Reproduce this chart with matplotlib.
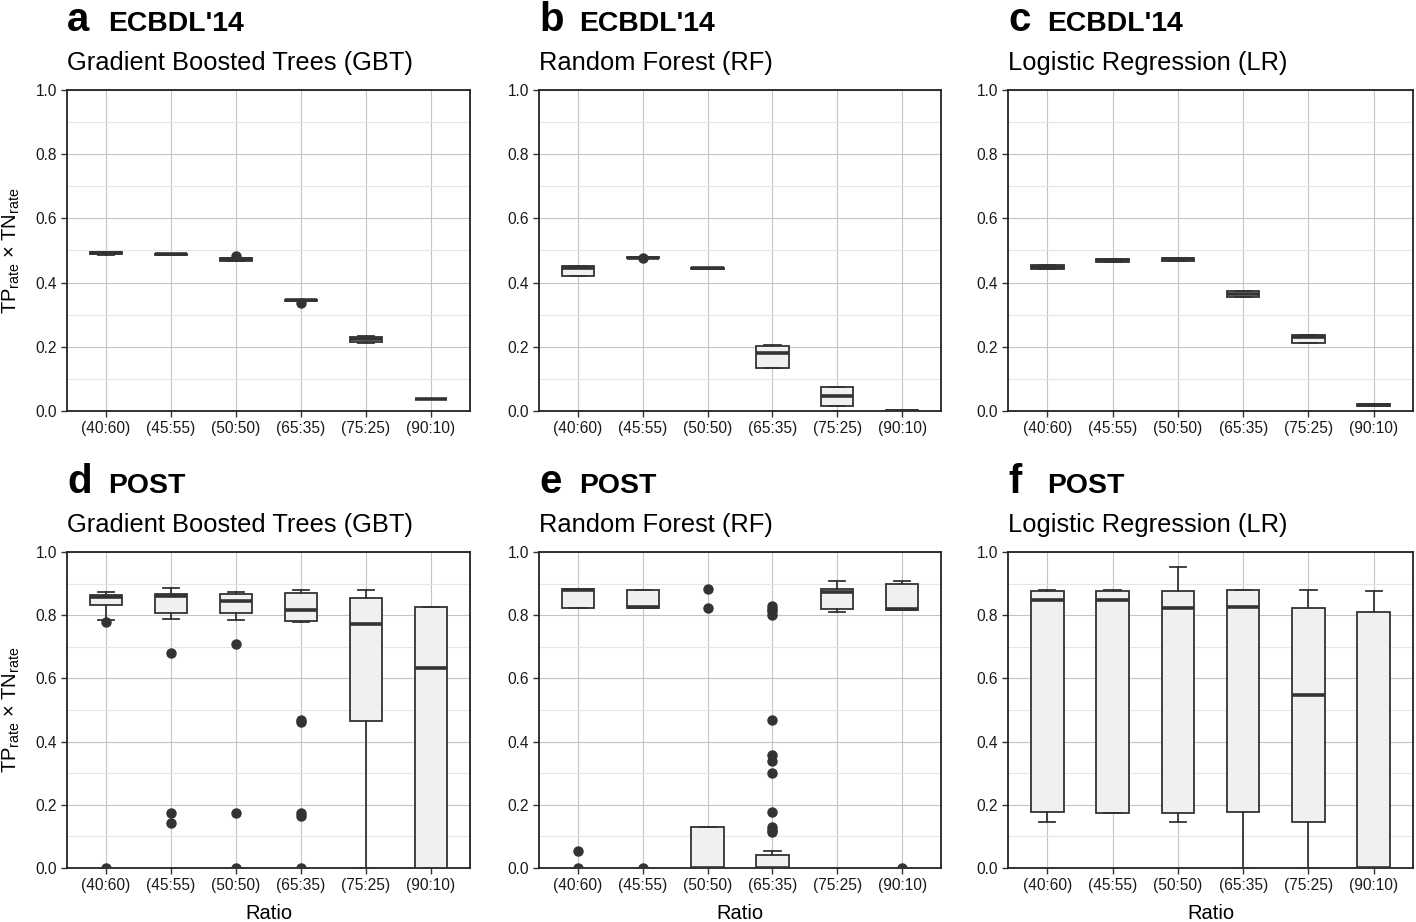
import matplotlib
matplotlib.use('Agg')
import matplotlib.pyplot as plt

plt.rcParams['font.family'] = ['Liberation Sans', 'DejaVu Sans']
plt.rcParams['mathtext.fontset'] = 'custom'
plt.rcParams['mathtext.rm'] = 'Liberation Sans'

W, H = 1416, 922

ratios = ['(40:60)', '(45:55)', '(50:50)', '(65:35)', '(75:25)', '(90:10)']
yticks = [0.0, 0.2, 0.4, 0.6, 0.8, 1.0]
yminor = [0.1, 0.3, 0.5, 0.7, 0.9]

# box statistics: lower whisker, q1, median, q3, upper whisker, outliers
# a: ECBDL'14, GBT
a_lo = [0.487, 0.487, 0.466, 0.343, 0.213, 0.036]
a_q1 = [0.488, 0.487, 0.468, 0.343, 0.216, 0.036]
a_med = [0.491, 0.489, 0.472, 0.345, 0.223, 0.037]
a_q3 = [0.494, 0.490, 0.476, 0.347, 0.229, 0.038]
a_hi = [0.494, 0.490, 0.476, 0.347, 0.234, 0.038]
a_out = [[], [], [0.483], [0.337], [], []]

# b: ECBDL'14, RF
b_lo = [0.420, 0.476, 0.443, 0.133, 0.017, 0.000]
b_q1 = [0.420, 0.476, 0.443, 0.135, 0.017, 0.000]
b_med = [0.446, 0.478, 0.445, 0.180, 0.047, 0.001]
b_q3 = [0.452, 0.480, 0.447, 0.204, 0.075, 0.002]
b_hi = [0.452, 0.480, 0.447, 0.206, 0.075, 0.002]
b_out = [[], [0.478], [], [], [], []]

# c: ECBDL'14, LR
c_lo = [0.443, 0.465, 0.467, 0.354, 0.212, 0.015]
c_q1 = [0.443, 0.465, 0.467, 0.354, 0.212, 0.015]
c_med = [0.450, 0.470, 0.472, 0.366, 0.229, 0.018]
c_q3 = [0.456, 0.475, 0.477, 0.374, 0.238, 0.022]
c_hi = [0.456, 0.475, 0.477, 0.374, 0.238, 0.022]
c_out = [[], [], [], [], [], []]

# d: POST, GBT
d_lo = [0.784, 0.789, 0.784, 0.779, 0.000, 0.000]
d_q1 = [0.831, 0.806, 0.808, 0.782, 0.464, 0.000]
d_med = [0.858, 0.861, 0.845, 0.815, 0.773, 0.633]
d_q3 = [0.864, 0.866, 0.866, 0.871, 0.855, 0.825]
d_hi = [0.873, 0.887, 0.874, 0.879, 0.879, 0.825]
d_out = [[0.778, 0.0], [0.681, 0.174, 0.143], [0.710, 0.174, 0.0],
         [0.468, 0.462, 0.174, 0.166, 0.0], [], []]

# e: POST, RF
e_lo = [0.824, 0.824, 0.000, 0.000, 0.810, 0.818]
e_q1 = [0.824, 0.824, 0.000, 0.000, 0.820, 0.818]
e_med = [0.880, 0.826, 0.000, 0.000, 0.874, 0.820]
e_q3 = [0.882, 0.880, 0.129, 0.040, 0.882, 0.898]
e_hi = [0.882, 0.880, 0.131, 0.055, 0.909, 0.908]
e_out = [[0.055, 0.0], [0.0], [0.884, 0.824],
         [0.829, 0.820, 0.813, 0.800, 0.468, 0.357, 0.340, 0.301, 0.176, 0.129, 0.121, 0.113],
         [], [0.0]]

# f: POST, LR
f_lo = [0.145, 0.174, 0.145, 0.000, 0.000, 0.000]
f_q1 = [0.176, 0.174, 0.174, 0.176, 0.145, 0.000]
f_med = [0.847, 0.847, 0.822, 0.825, 0.546, 0.000]
f_q3 = [0.876, 0.876, 0.876, 0.879, 0.823, 0.809]
f_hi = [0.881, 0.881, 0.954, 0.881, 0.881, 0.877]
f_out = [[], [], [], [], [], []]

panels = [
    ('a', "ECBDL'14", 'Gradient Boosted Trees (GBT)', a_lo, a_q1, a_med, a_q3, a_hi, a_out),
    ('b', "ECBDL'14", 'Random Forest (RF)', b_lo, b_q1, b_med, b_q3, b_hi, b_out),
    ('c', "ECBDL'14", 'Logistic Regression (LR)', c_lo, c_q1, c_med, c_q3, c_hi, c_out),
    ('d', 'POST', 'Gradient Boosted Trees (GBT)', d_lo, d_q1, d_med, d_q3, d_hi, d_out),
    ('e', 'POST', 'Random Forest (RF)', e_lo, e_q1, e_med, e_q3, e_hi, e_out),
    ('f', 'POST', 'Logistic Regression (LR)', f_lo, f_q1, f_med, f_q3, f_hi, f_out),
]

# pixel boxes of each panel (left, top, right, bottom)
cols = [(67, 470), (539, 941), (1008, 1413)]
rows = [(90, 411), (552, 868)]
word_dx = [41, 40, 39]

fig = plt.figure(figsize=(W / 100, H / 100), dpi=100)
ylab = r'TP$_{\mathregular{rate}}$ × TN$_{\mathregular{rate}}$'

for i, (letter, dataset, model, lo, q1, med, q3, hi, out) in enumerate(panels):
    r, c = divmod(i, 3)
    l, rr = cols[c]
    t, b = rows[r]
    ax = fig.add_axes([l / W, 1 - b / H, (rr - l) / W, (b - t) / H])

    stats = []
    for k in range(len(ratios)):
        stats.append(dict(whislo=lo[k], q1=q1[k], med=med[k], q3=q3[k],
                          whishi=hi[k], fliers=out[k]))
    pos = list(range(1, len(ratios) + 1))
    ax.bxp(stats, positions=pos, widths=0.5, capwidths=0.25, patch_artist=True,
           boxprops=dict(facecolor='#f0f0f0', edgecolor='#333333', linewidth=1.3),
           medianprops=dict(color='#333333', linewidth=2.6, solid_capstyle='butt'),
           whiskerprops=dict(color='#333333', linewidth=1.3),
           capprops=dict(color='#333333', linewidth=1.3),
           flierprops=dict(marker='o', markerfacecolor='#333333', markeredgecolor='#333333',
                           markersize=6.5),
           zorder=3)

    ax.set_xlim(0.4, 6.6)
    ax.set_ylim(0, 1)
    ax.set_xticks(pos)
    ax.set_xticklabels(ratios)
    ax.set_yticks(yticks)
    ax.set_yticklabels([f'{v:.1f}' for v in yticks])
    ax.set_yticks(yminor, minor=True)
    ax.set_axisbelow(True)
    ax.grid(True, which='major', color='#c4c4c4', linewidth=0.8)
    ax.grid(True, which='minor', axis='y', color='#e6e6e6', linewidth=0.8)
    ax.tick_params(which='major', length=4.5, width=1, color='#333333',
                   labelsize=11.2, pad=2.5, labelcolor='#1a1a1a')
    ax.tick_params(which='minor', length=0)
    for sp in ax.spines.values():
        sp.set_color('#222222')
        sp.set_linewidth(1.3)

    # panel letter, bold dataset name and model subtitle
    fig.text(l / W, 1 - (t - 59) / H, letter, fontsize=29, fontweight='bold', va='baseline')
    fig.text((l + word_dx[c]) / W, 1 - (t - 59) / H, dataset, fontsize=20.4,
             fontweight='bold', va='baseline')
    fig.text(l / W, 1 - (t - 20) / H, model, fontsize=18.4, va='baseline')

    if c == 0:
        fig.text(11 / W, 1 - ((t + b) / 2) / H, ylab, rotation=90, fontsize=14.5,
                 ha='center', va='center')
    if r == 1:
        fig.text((l + rr) / 2 / W, 1 - 913 / H, 'Ratio', fontsize=14.5,
                 ha='center', va='center')

fig.savefig('out.png', dpi=100)
